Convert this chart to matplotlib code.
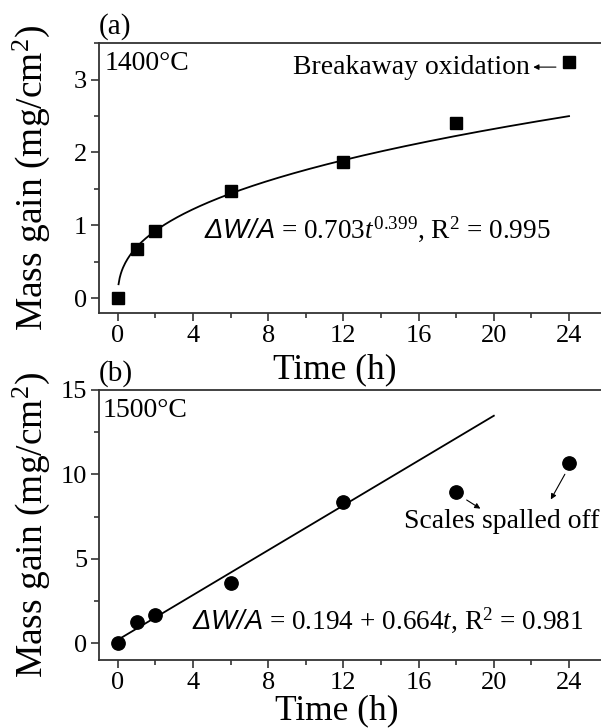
import numpy as np
import matplotlib.pyplot as plt
from matplotlib.ticker import MultipleLocator

plt.rcParams['font.family'] = ['Liberation Serif', 'DejaVu Serif']
plt.rcParams['mathtext.fontset'] = 'custom'
plt.rcParams['mathtext.rm'] = 'Liberation Serif'
plt.rcParams['mathtext.it'] = 'Liberation Serif:italic'
plt.rcParams['mathtext.sf'] = 'Liberation Sans:italic'

# oxidation times (h)
t = [0, 1, 2, 6, 12, 18, 24]
# mass gain at 1400 C (mg/cm2)
gain_1400 = [0.0, 0.68, 0.92, 1.47, 1.87, 2.41, 3.24]
# mass gain at 1500 C (mg/cm2)
gain_1500 = [0.0, 1.25, 1.64, 3.56, 8.37, 8.96, 10.68]

# fitted models
k_a, n_a = 0.703, 0.399
b0, b1 = 0.194, 0.664
xticks = [0, 4, 8, 12, 16, 20, 24]

fig = plt.figure(figsize=(6.01, 7.28), dpi=100)
ax1 = fig.add_axes([0.1647, 0.570, 0.8353, 0.3709])
ax2 = fig.add_axes([0.1647, 0.0934, 0.8353, 0.3709])


def style(ax, ylim, ymaj, ymin, xlab_pos):
    ax.set_xlim(-1.0, 25.7)
    ax.set_ylim(*ylim)
    ax.set_xticks(xticks)
    ax.xaxis.set_minor_locator(MultipleLocator(2))
    ax.yaxis.set_major_locator(MultipleLocator(ymaj))
    ax.yaxis.set_minor_locator(MultipleLocator(ymin))
    ax.tick_params(which='both', direction='out', top=False, right=False,
                   labelsize=19, width=1.2, color='#333333')
    ax.tick_params(which='major', length=5.5, pad=3)
    ax.tick_params(which='minor', length=3.5)
    ax.spines['right'].set_visible(False)
    for s in ['left', 'bottom', 'top']:
        ax.spines[s].set_linewidth(1.3)
        ax.spines[s].set_color('#333333')
    ax.set_xlabel('Time (h)', fontsize=25.5, va='baseline')
    ax.xaxis.set_label_coords(*xlab_pos)
    ax.set_ylabel('Mass gain (mg/cm$^2$)', fontsize=27)
    ax.yaxis.set_label_coords(-0.094, 0.5)


# (a) 1400 C
style(ax1, (-0.2, 3.5), 1, 0.5, (0.470, -0.2407))
tt = np.linspace(0.04, 24, 400)
ax1.plot(tt, k_a * tt ** n_a, color='black', lw=1.3)
ax1.plot(t, gain_1400, 's', color='black', ms=8.4)
ax1.text(0.0, 1.01, '(a)', transform=ax1.transAxes, fontsize=21,
         ha='left', va='bottom')
ax1.text(0.012, 0.97, '1400°C', transform=ax1.transAxes, fontsize=20,
         ha='left', va='top')
ax1.text(21.9, 3.17, 'Breakaway oxidation', fontsize=20, ha='right',
         va='center')
ax1.annotate('', xy=(21.95, 3.17), xytext=(23.45, 3.17),
             arrowprops=dict(arrowstyle='-|>', color='black', lw=0.8,
                             mutation_scale=8))
ax1.text(4.6, 0.95, r'$\mathsf{\Delta W/A}$ = 0.703$t^{0.399}$, R$^2$ = 0.995',
         fontsize=19.6, ha='left', va='center')

# (b) 1500 C
style(ax2, (-1, 15), 5, 2.5, (0.474, -0.2185))
tl = np.linspace(0, 20, 50)
ax2.plot(tl, b0 + b1 * tl, color='black', lw=1.3)
ax2.plot(t, gain_1500, 'o', color='black', ms=9.6)
ax2.text(0.0, 1.01, '(b)', transform=ax2.transAxes, fontsize=21,
         ha='left', va='bottom')
ax2.text(0.008, 0.97, '1500°C', transform=ax2.transAxes, fontsize=20,
         ha='left', va='top')
ax2.text(15.2, 7.2, 'Scales spalled off', fontsize=20, ha='left', va='center')
ax2.annotate('', xy=(19.41, 7.88), xytext=(18.43, 8.57),
             arrowprops=dict(arrowstyle='-|>', color='black', lw=0.8,
                             mutation_scale=8))
ax2.annotate('', xy=(22.96, 8.37), xytext=(23.85, 10.15),
             arrowprops=dict(arrowstyle='-|>', color='black', lw=0.8,
                             mutation_scale=8))
ax2.text(3.95, 1.35, r'$\mathsf{\Delta W/A}$ = 0.194 + 0.664$t$, R$^2$ = 0.981',
         fontsize=19.6, ha='left', va='center')

fig.savefig('out.png', dpi=100)
